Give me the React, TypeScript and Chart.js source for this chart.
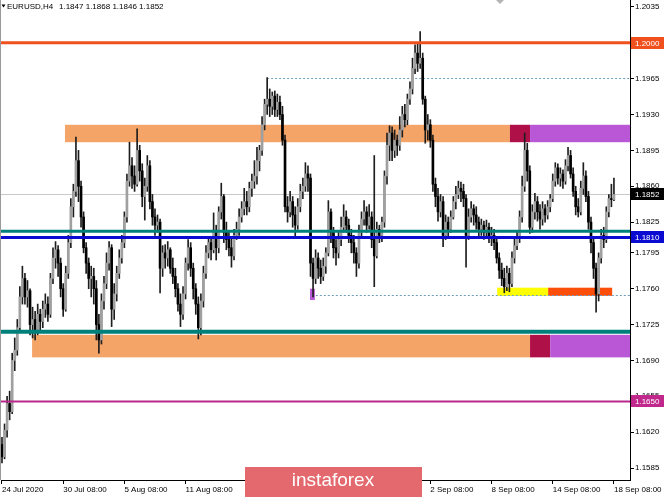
import React, { useEffect, useRef } from "react";
import { Chart, registerables } from "chart.js";
Chart.register(...registerables);

// ---- Candle data (EURUSD H4), bar 0 = 24 Jul 2020 08:00 ----
const firstOpen = 1.1608;
const closes = [
  1.1596, 1.1622, 1.1648, 1.1640, 1.1690, 1.1700, 1.1722, 1.1752, 1.1770, 1.1752,
  1.1758, 1.1725, 1.1730, 1.1720, 1.1735, 1.1728, 1.1740, 1.1745, 1.1735, 1.1770,
  1.1790, 1.1798, 1.1785, 1.1760, 1.1740, 1.1775, 1.1805, 1.1840, 1.1855, 1.1885,
  1.1860, 1.1830, 1.1800, 1.1785, 1.1770, 1.1772, 1.1760, 1.1725, 1.1710, 1.1748,
  1.1765, 1.1785, 1.1800, 1.1740, 1.1755, 1.1775, 1.1790, 1.1805, 1.1830, 1.1865,
  1.1880, 1.1870, 1.1862, 1.1895, 1.1875, 1.1850, 1.1860, 1.1880, 1.1845, 1.1830,
  1.1822, 1.1825, 1.1780, 1.1795, 1.1790, 1.1798, 1.1780, 1.1772, 1.1760, 1.1745,
  1.1735, 1.1755, 1.1785, 1.1800, 1.1780, 1.1760, 1.1745, 1.1722, 1.1748, 1.1775,
  1.1795, 1.1805, 1.1798, 1.1815, 1.1800, 1.1835, 1.1850, 1.1815, 1.1808, 1.1800,
  1.1792, 1.1812, 1.1818, 1.1830, 1.1838, 1.1845, 1.1840, 1.1858, 1.1865, 1.1870,
  1.1885, 1.1895, 1.1920, 1.1940, 1.1945, 1.1938, 1.1948, 1.1935, 1.1942, 1.1930,
  1.1905, 1.1840, 1.1835, 1.1845, 1.1832, 1.1822, 1.1840, 1.1855, 1.1860, 1.1872,
  1.1868, 1.1785, 1.1770, 1.1790, 1.1780, 1.1772, 1.1782, 1.1795, 1.1835, 1.1815,
  1.1800, 1.1795, 1.1808, 1.1820, 1.1830, 1.1822, 1.1812, 1.1805, 1.1795, 1.1785,
  1.1815, 1.1828, 1.1835, 1.1822, 1.1830, 1.1808, 1.1792, 1.1818, 1.1812, 1.1825,
  1.1870, 1.1900, 1.1912, 1.1895, 1.1905, 1.1900, 1.1915, 1.1930, 1.1925, 1.1945,
  1.1955, 1.1975, 1.1990, 1.1980, 1.1985, 1.1945, 1.1915, 1.1920, 1.1905, 1.1862,
  1.1850, 1.1835, 1.1845, 1.1812, 1.1825, 1.1818, 1.1830, 1.1845, 1.1852, 1.1858,
  1.1855, 1.1848, 1.1812, 1.1830, 1.1838, 1.1832, 1.1825, 1.1818, 1.1822, 1.1815,
  1.1820, 1.1810, 1.1812, 1.1805, 1.1790, 1.1778, 1.1770, 1.1762, 1.1775, 1.1765,
  1.1790, 1.1802, 1.1810, 1.1830, 1.1860, 1.1895, 1.1875, 1.1820, 1.1835, 1.1845,
  1.1835, 1.1828, 1.1838, 1.1832, 1.1840, 1.1848, 1.1865, 1.1878, 1.1868, 1.1872,
  1.1865, 1.1880, 1.1890, 1.1872, 1.1855, 1.1840, 1.1835, 1.1858, 1.1870, 1.1850,
  1.1825, 1.1805, 1.1780, 1.1755, 1.1790, 1.1812, 1.1808, 1.1835, 1.1848, 1.1847,
  1.1852,
];
const highs = [
  1.1615, 1.1628, 1.1655, 1.1660, 1.1697, 1.1712, 1.1730, 1.1762, 1.1782, 1.1775,
  1.1768, 1.1760, 1.1742, 1.1738, 1.1745, 1.1740, 1.1748, 1.1755, 1.1752, 1.1775,
  1.1800, 1.1806, 1.1802, 1.1790, 1.1765, 1.1782, 1.1812, 1.1848, 1.1862, 1.1908,
  1.1895, 1.1865, 1.1835, 1.1805, 1.1790, 1.1782, 1.1780, 1.1768, 1.1735, 1.1755,
  1.1772, 1.1795, 1.1806, 1.1803, 1.1765, 1.1782, 1.1798, 1.1812, 1.1835, 1.1872,
  1.1903, 1.1888, 1.1880, 1.1916, 1.1900, 1.1882, 1.1868, 1.1890, 1.1885, 1.1852,
  1.1838, 1.1832, 1.1828, 1.1802, 1.1803, 1.1806, 1.1800, 1.1790, 1.1780, 1.1765,
  1.1755, 1.1762, 1.1790, 1.1808, 1.1805, 1.1785, 1.1765, 1.1752, 1.1755, 1.1782,
  1.1802, 1.1810, 1.1810, 1.1834, 1.1822, 1.1840, 1.1863, 1.1852, 1.1825, 1.1815,
  1.1810, 1.1818, 1.1825, 1.1838, 1.1845, 1.1858, 1.1855, 1.1864, 1.1872, 1.1885,
  1.1898, 1.1900, 1.1928, 1.1945, 1.1966, 1.1955, 1.1952, 1.1953, 1.1950, 1.1948,
  1.1938, 1.1910, 1.1850, 1.1855, 1.1850, 1.1840, 1.1848, 1.1862, 1.1868, 1.1883,
  1.1880, 1.1872, 1.1790, 1.1798, 1.1795, 1.1788, 1.1790, 1.1800, 1.1846, 1.1838,
  1.1820, 1.1808, 1.1815, 1.1830, 1.1842, 1.1836, 1.1828, 1.1818, 1.1812, 1.1800,
  1.1822, 1.1835, 1.1846, 1.1840, 1.1842, 1.1835, 1.1890, 1.1825, 1.1822, 1.1830,
  1.1875, 1.1912, 1.1919, 1.1918, 1.1915, 1.1910, 1.1928, 1.1938, 1.1940, 1.1950,
  1.1962, 1.1985, 1.1998, 1.2000, 1.2011, 1.1990, 1.1948, 1.1930, 1.1925, 1.1910,
  1.1868, 1.1858, 1.1852, 1.1850, 1.1832, 1.1830, 1.1836, 1.1850, 1.1860, 1.1865,
  1.1864, 1.1862, 1.1852, 1.1838, 1.1845, 1.1842, 1.1840, 1.1830, 1.1828, 1.1826,
  1.1827, 1.1824, 1.1820, 1.1818, 1.1810, 1.1795, 1.1785, 1.1780, 1.1782, 1.1780,
  1.1796, 1.1810, 1.1816, 1.1836, 1.1870, 1.1912, 1.1902, 1.1880, 1.1842, 1.1853,
  1.1850, 1.1842, 1.1845, 1.1842, 1.1846, 1.1852, 1.1872, 1.1883, 1.1882, 1.1878,
  1.1876, 1.1886, 1.1898, 1.1895, 1.1878, 1.1860, 1.1848, 1.1865, 1.1883, 1.1875,
  1.1855, 1.1830, 1.1810, 1.1785, 1.1795, 1.1818, 1.1820, 1.1840, 1.1852, 1.1862,
  1.1868,
];
const lows = [
  1.1590, 1.1594, 1.1615, 1.1632, 1.1638, 1.1680, 1.1695, 1.1718, 1.1745, 1.1745,
  1.1742, 1.1715, 1.1712, 1.1710, 1.1715, 1.1718, 1.1722, 1.1732, 1.1728, 1.1732,
  1.1765, 1.1780, 1.1772, 1.1752, 1.1733, 1.1738, 1.1770, 1.1800, 1.1830, 1.1850,
  1.1845, 1.1820, 1.1795, 1.1775, 1.1760, 1.1752, 1.1745, 1.1710, 1.1697, 1.1706,
  1.1740, 1.1760, 1.1778, 1.1723, 1.1730, 1.1748, 1.1770, 1.1785, 1.1800, 1.1825,
  1.1860, 1.1858, 1.1855, 1.1860, 1.1865, 1.1840, 1.1827, 1.1855, 1.1838, 1.1822,
  1.1812, 1.1815, 1.1756, 1.1772, 1.1780, 1.1782, 1.1775, 1.1765, 1.1752, 1.1738,
  1.1723, 1.1730, 1.1750, 1.1778, 1.1772, 1.1750, 1.1735, 1.1711, 1.1715, 1.1742,
  1.1770, 1.1790, 1.1788, 1.1795, 1.1788, 1.1795, 1.1828, 1.1805, 1.1798, 1.1792,
  1.1781, 1.1788, 1.1808, 1.1812, 1.1825, 1.1832, 1.1832, 1.1835, 1.1850, 1.1858,
  1.1862, 1.1875, 1.1890, 1.1915, 1.1930, 1.1928, 1.1930, 1.1928, 1.1928, 1.1925,
  1.1900, 1.1835, 1.1825, 1.1830, 1.1820, 1.1810, 1.1818, 1.1835, 1.1848, 1.1855,
  1.1855, 1.1772, 1.1752, 1.1765, 1.1770, 1.1765, 1.1768, 1.1775, 1.1792, 1.1805,
  1.1790, 1.1783, 1.1790, 1.1802, 1.1815, 1.1815, 1.1805, 1.1795, 1.1785, 1.1772,
  1.1780, 1.1810, 1.1822, 1.1815, 1.1818, 1.1800, 1.1762, 1.1790, 1.1805, 1.1806,
  1.1820, 1.1862, 1.1885, 1.1885, 1.1888, 1.1890, 1.1895, 1.1908, 1.1918, 1.1920,
  1.1940, 1.1950, 1.1970, 1.1972, 1.1975, 1.1940, 1.1902, 1.1905, 1.1898, 1.1855,
  1.1840, 1.1826, 1.1830, 1.1801, 1.1808, 1.1810, 1.1815, 1.1828, 1.1838, 1.1848,
  1.1845, 1.1840, 1.1781, 1.1808, 1.1825, 1.1822, 1.1818, 1.1810, 1.1812, 1.1808,
  1.1810, 1.1805, 1.1802, 1.1798, 1.1785, 1.1770, 1.1763, 1.1756, 1.1758, 1.1757,
  1.1762, 1.1785, 1.1798, 1.1805, 1.1825, 1.1855, 1.1865, 1.1814, 1.1815, 1.1828,
  1.1826, 1.1818, 1.1822, 1.1825, 1.1828, 1.1835, 1.1845, 1.1860, 1.1862, 1.1860,
  1.1858, 1.1862, 1.1875, 1.1868, 1.1850, 1.1832, 1.1830, 1.1832, 1.1852, 1.1845,
  1.1818, 1.1795, 1.1770, 1.1737, 1.1748, 1.1785, 1.1800, 1.1805, 1.1830, 1.1840,
  1.1846,
];

// time axis labels (bar index of each label)
const timeTickIndex = [0, 24, 48, 72, 96, 120, 144, 168, 192, 216, 240];
const timeTickLabels = [
  "24 Jul 2020", "30 Jul 08:00", "5 Aug 08:00", "11 Aug 08:00", "17 Aug 08:00",
  "21 Aug 08:00", "27 Aug 08:00", "2 Sep 08:00", "8 Sep 08:00", "14 Sep 08:00", "18 Sep 08:00",
];
// price axis labels
const priceTicks = [1.2035, 1.1965, 1.1930, 1.1895, 1.1860, 1.1825, 1.1795, 1.1760, 1.1725, 1.1690, 1.1655, 1.1620, 1.1585];

// horizontal levels
const levelPrices = [1.2000, 1.1816, 1.1810, 1.1718, 1.1650];
const levelColors = ["#f0501e", "#00807a", "#0a0ad2", "#00807a", "#b8288a"];
const levelWidths = [3, 3, 3, 4, 2];
// price label boxes on the right
const boxPrices = [1.2000, 1.1852, 1.1810, 1.1650];
const boxColors = ["#f0501e", "#000000", "#0a0ad2", "#c0288c"];
const currentPrice = 1.1852;

// zones: [top price, bottom price, start bar, end bar (null = right edge)]
const zoneTop = [1.1920, 1.1920, 1.1920, 1.1715, 1.1715, 1.1715, 1.1761, 1.1761, 1.1760];
const zoneBottom = [1.1903, 1.1903, 1.1903, 1.1693, 1.1693, 1.1693, 1.1753, 1.1753, 1.1749];
const zoneStart = [24.7, 199.2, 207.1, 11.8, 207.1, 215.0, 194.2, 214.2, 120.8];
const zoneEnd: (number | null)[] = [199.2, 207.1, null, 207.1, 215.0, null, 214.2, 239.3, 122.7];
const zoneColors = ["#f5a468", "#b01048", "#b957d6", "#f5a468", "#b01048", "#b957d6", "#ffff00", "#ff4d0a", "#b957d6"];
// dotted lines: price, start bar
const dotPrices = [1.1966, 1.1754];
const dotStart = [104, 121.5];

const X_MIN = -0.39;
const X_MAX = 246.3;
const Y_MIN = 1.15733;
const Y_MAX = 1.20418;
const FONT = "'Liberation Sans', Arial, sans-serif";

export default function App() {
  const ref = useRef<HTMLCanvasElement>(null);
  useEffect(() => {
    document.body.style.margin = "0";
    const canvas = ref.current!;
    const opens = closes.map((c, i) => (i === 0 ? firstOpen : closes[i - 1]));
    const wickData = closes.map((c, i) => ({
      x: i,
      y: [Math.min(lows[i], opens[i], c), Math.max(highs[i], opens[i], c)],
    }));
    const bodyData = closes.map((c, i) => ({ x: i, y: [opens[i], c] }));
    const bodyColors = closes.map((c, i) => (c >= opens[i] ? "#a0a0a0" : "#000000"));

    const overlay = {
      id: "overlay",
      beforeDatasetsDraw(chart: any) {
        const { ctx, chartArea: a, scales } = chart;
        const xs = scales.x, ys = scales.y;
        ctx.save();
        ctx.beginPath();
        ctx.rect(a.left, a.top, a.right - a.left, a.bottom - a.top);
        ctx.clip();
        const cy = Math.round(ys.getPixelForValue(currentPrice)) + 0.5;
        ctx.strokeStyle = "#c8c8c8";
        ctx.lineWidth = 1;
        ctx.beginPath();
        ctx.moveTo(a.left, cy);
        ctx.lineTo(a.right, cy);
        ctx.stroke();
        zoneTop.forEach((t, k) => {
          const x0 = xs.getPixelForValue(zoneStart[k]);
          const x1 = zoneEnd[k] === null ? a.right : xs.getPixelForValue(zoneEnd[k] as number);
          const y0 = ys.getPixelForValue(t);
          const y1 = ys.getPixelForValue(zoneBottom[k]);
          ctx.fillStyle = zoneColors[k];
          ctx.fillRect(x0, y0, x1 - x0, y1 - y0);
        });
        ctx.strokeStyle = "#6f9fbf";
        ctx.setLineDash([2, 2]);
        dotPrices.forEach((p, k) => {
          const y = Math.round(ys.getPixelForValue(p)) + 0.5;
          ctx.beginPath();
          ctx.moveTo(xs.getPixelForValue(dotStart[k]), y);
          ctx.lineTo(a.right, y);
          ctx.stroke();
        });
        ctx.setLineDash([]);
        ctx.restore();
      },
      afterDatasetsDraw(chart: any) {
        const { ctx, chartArea: a, scales } = chart;
        const ys = scales.y;
        ctx.save();
        levelPrices.forEach((p, k) => {
          const y = ys.getPixelForValue(p);
          ctx.strokeStyle = levelColors[k];
          ctx.lineWidth = levelWidths[k];
          ctx.beginPath();
          ctx.moveTo(a.left, y);
          ctx.lineTo(a.right, y);
          ctx.stroke();
        });
        ctx.restore();
      },
      afterDraw(chart: any) {
        const { ctx, chartArea: a, scales } = chart;
        const ys = scales.y;
        ctx.save();
        ctx.strokeStyle = "#9a9a9a";
        ctx.lineWidth = 1;
        ctx.beginPath();
        ctx.moveTo(0.5, a.top);
        ctx.lineTo(0.5, a.bottom);
        ctx.stroke();
        ctx.font = `8px ${FONT}`;
        ctx.textBaseline = "middle";
        ctx.textAlign = "left";
        boxPrices.forEach((p, k) => {
          const y = ys.getPixelForValue(p);
          ctx.fillStyle = boxColors[k];
          ctx.fillRect(a.right + 1, Math.round(y) - 6, 33, 12);
          ctx.fillStyle = "#ffffff";
          ctx.fillText(p.toFixed(4), a.right + 5, y + 0.5);
        });
        ctx.fillStyle = "#000";
        ctx.beginPath();
        ctx.moveTo(1.5, 4.5);
        ctx.lineTo(5.5, 4.5);
        ctx.lineTo(3.5, 7.5);
        ctx.closePath();
        ctx.fill();
        ctx.fillText("EURUSD,H4", 7, 7);
        ctx.fillText("1.1847 1.1868 1.1846 1.1852", 59, 7);
        ctx.fillStyle = "#b4b4b4";
        ctx.beginPath();
        ctx.moveTo(496, 0);
        ctx.lineTo(504, 0);
        ctx.lineTo(500, 4);
        ctx.closePath();
        ctx.fill();
        ctx.fillStyle = "#e4696e";
        ctx.fillRect(245, 467, 177, 30);
        ctx.fillStyle = "#ffffff";
        ctx.font = `19px ${FONT}`;
        ctx.textAlign = "center";
        ctx.fillText("instaforex", 333, 481);
        ctx.restore();
      },
    };

    const chart = new Chart(canvas, {
      type: "bar",
      data: {
        datasets: [
          {
            data: bodyData as any,
            backgroundColor: bodyColors,
            barThickness: 2,
            minBarLength: 1,
            grouped: false,
            order: 0,
          } as any,
          {
            data: wickData as any,
            backgroundColor: "#1e1e1e",
            barThickness: 1,
            grouped: false,
            order: 1,
          } as any,
        ],
      },
      options: {
        responsive: false,
        animation: false,
        devicePixelRatio: 1,
        layout: { padding: { left: 1, top: 0, right: 0, bottom: 0 } },
        plugins: { legend: { display: false }, tooltip: { enabled: false } },
        scales: {
          x: {
            type: "linear",
            min: X_MIN,
            max: X_MAX,
            offset: false,
            grid: { drawOnChartArea: false, offset: false, tickLength: 4, tickColor: "#000" },
            border: { display: true, color: "#000" },
            afterBuildTicks: (s: any) => {
              s.ticks = timeTickIndex.map((v) => ({ value: v }));
            },
            afterFit: (s: any) => {
              s.height = 17;
              s.paddingLeft = 0;
              s.paddingRight = 0;
            },
            ticks: {
              autoSkip: false,
              maxRotation: 0,
              minRotation: 0,
              align: "start",
              padding: 1,
              color: "#000",
              font: { family: FONT, size: 8 },
              callback: (v: any) => {
                const k = timeTickIndex.indexOf(v);
                return k >= 0 ? timeTickLabels[k] : "";
              },
            },
          },
          y: {
            type: "linear",
            position: "right",
            min: Y_MIN,
            max: Y_MAX,
            grid: { drawOnChartArea: false, tickLength: 4, tickColor: "#000" },
            border: { display: true, color: "#000" },
            afterBuildTicks: (s: any) => {
              s.ticks = priceTicks.map((v) => ({ value: v }));
            },
            afterFit: (s: any) => {
              s.width = 35;
              s.paddingTop = 0;
              s.paddingBottom = 0;
            },
            ticks: {
              autoSkip: false,
              padding: 1,
              color: "#000",
              font: { family: FONT, size: 8 },
              callback: (v: any) => Number(v).toFixed(4),
            },
          },
        },
      } as any,
      plugins: [overlay],
    });
    return () => chart.destroy();
  }, []);
  return <canvas ref={ref} width={665} height={497} style={{ display: "block" }} />;
}
